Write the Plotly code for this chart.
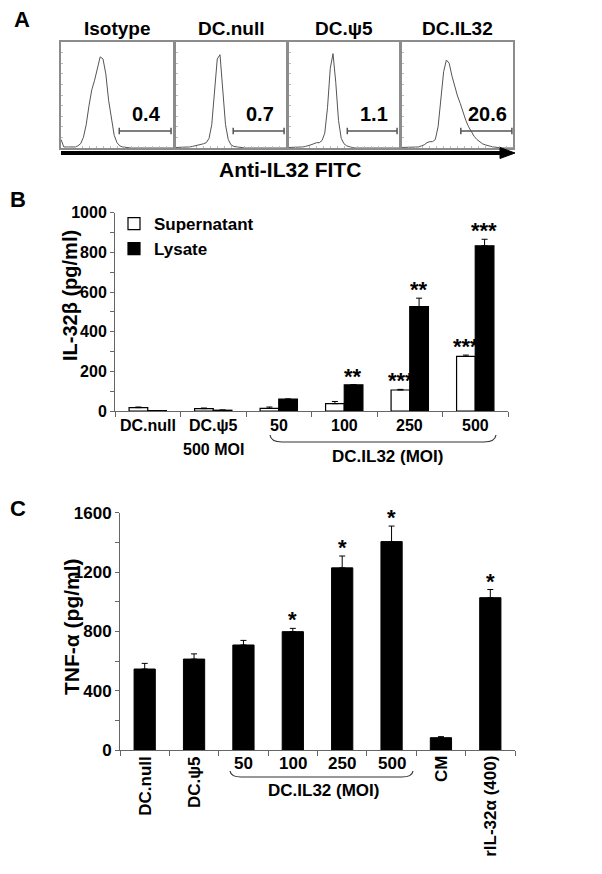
import plotly.graph_objects as go

W, H = 602, 874
OFF = 8  # page body margin of the browser
def px(x): return (x - OFF) / W
def py(y): return 1 - (y - OFF) / H

FONT = "Liberation Sans, Arial, Helvetica, sans-serif"

# ---------------- Panel A data ----------------
hist_titles = ["Isotype", "DC.null", "DC.ψ5", "DC.IL32"]
hist_pct = ["0.4", "0.7", "1.1", "20.6"]
fitc_log = [0.0, 0.1, 0.2, 0.3, 0.4, 0.5, 0.6, 0.7, 0.8, 0.9,
            1.0, 1.1, 1.2, 1.3, 1.4, 1.5, 1.6, 1.7, 1.8, 1.9,
            2.0, 2.1, 2.2, 2.3, 2.4, 2.5, 2.6, 2.7, 2.8, 2.9,
            3.0, 3.1, 3.2, 3.3, 3.4, 3.5, 3.6, 3.7, 3.8, 3.9, 4.0]
iso_counts = [8, 1, 1, 1, 1, 1, 2, 4, 10, 22,
              40, 55, 64, 75, 86, 84, 70, 45, 26, 12,
              5, 2, 1, 0.5, 0, 0, 0, 0, 0, 0,
              0, 0, 0, 0, 0, 0, 0, 0, 0, 0, 0]
null_counts = [0.5, 0.5, 0.5, 0.5, 0.5, 1, 1.5, 2, 3, 3.5,
               4, 5, 9, 22, 50, 84, 88, 55, 22, 8,
               3, 1.5, 1, 0.5, 0, 0, 0, 0, 0, 0,
               0, 0, 0, 0, 0, 0, 0, 0, 0, 0, 0]
psi5_counts = [0.5, 0.5, 0.5, 0.5, 0.5, 1, 1.5, 2, 3, 4,
               5, 5, 7, 14, 38, 75, 89, 62, 26, 9,
               4, 2, 1, 0.5, 0, 0, 0, 0, 0, 0,
               0, 0, 0, 0, 0, 0, 0, 0, 0, 0, 0]
il32_counts = [0.5, 0.5, 0.5, 0.5, 0.5, 1, 1, 2, 3, 5,
               6, 6, 8, 20, 45, 72, 83, 80, 68, 58,
               49, 42, 33, 26, 20, 15, 11, 8, 6, 4,
               3, 2, 1.5, 1, 0.5, 0, 0, 0, 0, 0, 0]
hist_counts = [iso_counts, null_counts, psi5_counts, il32_counts]
gate_lo = [2.08, 2.08, 2.12, 2.12]
gate_hi = [3.93, 3.93, 3.93, 3.96]
gate_level = 16

# ---------------- Panel B data ----------------
b_cats = ["DC.null", "DC.ψ5 500 MOI", "50 MOI", "100 MOI", "250 MOI", "500 MOI"]
b_labels = ["DC.null", "DC.ψ5", "50", "100", "250", "500"]
b_sup = [17, 12, 13, 37, 106, 275]
b_sup_err = [3, 3, 7, 11, 3, 7]
b_lys = [2, 4, 60, 132, 527, 833]
b_lys_err = [0, 1, 0, 0, 42, 33]
b_sup_stars = ["", "", "", "", "***", "***"]
b_lys_stars = ["", "", "", "**", "**", "***"]

# ---------------- Panel C data ----------------
c_cats = ["DC.null", "DC.ψ5", "50 MOI", "100 MOI", "250 MOI", "500 MOI", "CM", "rIL-32α (400)"]
c_labels = ["DC.null", "DC.ψ5", "50", "100", "250", "500", "CM", "rIL-32α (400)"]
c_vertical = [True, True, False, False, False, False, True, True]
c_vals = [546, 613, 708, 798, 1228, 1405, 83, 1027]
c_err = [38, 35, 31, 22, 80, 105, 7, 55]
c_stars = ["", "", "", "*", "*", "*", "", "*"]

fig = go.Figure()
layout = dict()
annotations = []
shapes = []

def txt(text, x, y, size, xref="paper", yref="paper", **kw):
    d = dict(text=f"<b>{text}</b>", xref=xref, yref=yref, x=x, y=y, showarrow=False,
             xanchor="center", yanchor="middle",
             font=dict(size=size, family=FONT, color="black"))
    d.update(kw)
    return d

# ---------- Panel A ----------
boxes_x = [(61, 173), (176, 286), (289, 399), (402, 513)]
box_top, box_bot = 42, 148
for i in range(4):
    xa = f"x{i+1}" if i > 0 else "x"
    ya = f"y{i+1}" if i > 0 else "y"
    fig.add_trace(go.Scatter(x=fitc_log, y=hist_counts[i], mode="lines",
                             line=dict(color="#555555", width=1),
                             xaxis=xa, yaxis=ya, showlegend=False, hoverinfo="skip"))
    fig.add_trace(go.Scatter(x=[gate_lo[i], gate_lo[i], gate_lo[i], gate_hi[i], gate_hi[i], gate_hi[i]],
                             y=[gate_level + 3, gate_level - 3, gate_level, gate_level, gate_level + 3, gate_level - 3],
                             mode="lines", line=dict(color="#555555", width=1.5),
                             xaxis=xa, yaxis=ya, showlegend=False, hoverinfo="skip"))
    axkey = "xaxis" if i == 0 else f"xaxis{i+1}"
    aykey = "yaxis" if i == 0 else f"yaxis{i+1}"
    layout[axkey] = dict(domain=[px(boxes_x[i][0]), px(boxes_x[i][1])], range=[0, 4],
                         anchor=ya, showline=True, mirror=True, linecolor="#8c8c8c", linewidth=1.5,
                         showgrid=False, zeroline=False, showticklabels=False,
                         ticks="inside", ticklen=2, tickcolor="#bbbbbb", dtick=0.25, automargin=False)
    layout[aykey] = dict(domain=[py(box_bot), py(box_top)], range=[0, 100],
                         anchor=xa, showline=True, mirror=True, linecolor="#8c8c8c", linewidth=1.5,
                         showgrid=False, zeroline=False, showticklabels=False,
                         ticks="inside", ticklen=2, tickcolor="#bbbbbb", dtick=10, automargin=False)
    annotations.append(txt(hist_titles[i], px((boxes_x[i][0] + boxes_x[i][1]) / 2), py(28), 19))
    annotations.append(txt(hist_pct[i], (gate_lo[i] + gate_hi[i]) / 2 + 0.05, gate_level + 16, 20,
                           xref=xa, yref=ya))

# arrow under panel A
shapes.append(dict(type="line", xref="paper", yref="paper", x0=px(61), x1=px(503),
                   y0=py(153), y1=py(153), line=dict(color="black", width=4)))
shapes.append(dict(type="path", xref="paper", yref="paper",
                   path=f"M {px(500)},{py(147.5)} L {px(515)},{py(153)} L {px(500)},{py(158.5)} Z",
                   fillcolor="black", line=dict(color="black", width=1)))
annotations.append(txt("Anti-IL32 FITC", px(290), py(170), 21))
annotations.append(txt("A", px(22), py(20), 22))

# ---------- Panel B ----------
nb = len(b_cats)
fig.add_trace(go.Bar(x=b_cats, y=b_sup, name="Supernatant", xaxis="x5", yaxis="y5",
                     marker=dict(color="white", line=dict(color="black", width=1.2)),
                     error_y=dict(type="data", array=b_sup_err, arrayminus=[0]*nb, symmetric=False,
                                  color="black", thickness=1, width=3),
                     offsetgroup="sup"))
fig.add_trace(go.Bar(x=b_cats, y=b_lys, name="Lysate", xaxis="x5", yaxis="y5",
                     marker=dict(color="black", line=dict(color="black", width=1.2)),
                     error_y=dict(type="data", array=b_lys_err, arrayminus=[0]*nb, symmetric=False,
                                  color="black", thickness=1, width=3),
                     offsetgroup="lys"))
layout["xaxis5"] = dict(domain=[px(115), px(508)], anchor="y5", type="category",
                        categoryorder="array", categoryarray=b_cats, range=[-0.5, nb - 0.5],
                        showline=True, linecolor="#666666", linewidth=1, tickson="boundaries",
                        ticks="outside", ticklen=5, tickcolor="#666666", showticklabels=False,
                        showgrid=False, zeroline=False, automargin=False)
layout["yaxis5"] = dict(domain=[py(411), py(212.7)], anchor="x5", range=[0, 1000],
                        tickvals=[0, 200, 400, 600, 800, 1000], showline=True, linecolor="#666666",
                        linewidth=1, ticks="outside", ticklen=4, tickcolor="#666666",
                        minor=dict(dtick=100, ticks="outside", ticklen=4, tickcolor="#666666"),
                        tickfont=dict(size=16, family=FONT, color="black", weight="bold"),
                        showgrid=False, zeroline=False, automargin=False)
for i in range(nb):
    if b_sup_stars[i]:
        annotations.append(txt(b_sup_stars[i], i, b_sup[i] + b_sup_err[i], 22, xref="x5", yref="y5",
                               xshift=-9, yshift=-6, yanchor="bottom"))
    if b_lys_stars[i]:
        annotations.append(txt(b_lys_stars[i], i, b_lys[i] + b_lys_err[i], 22, xref="x5", yref="y5",
                               xshift=9, yshift=-6, yanchor="bottom"))
    annotations.append(txt(b_labels[i], i, py(425), 16, xref="x5"))
annotations.append(txt("500 MOI", 1, py(449), 16, xref="x5"))
shapes.append(dict(type="path", xref="paper", yref="paper",
                   path=(f"M {px(270)},{py(435)} Q {px(271)},{py(442)} {px(282)},{py(442)} "
                         f"L {px(484)},{py(442)} Q {px(495)},{py(442)} {px(496)},{py(435)}"),
                   line=dict(color="#333333", width=1.2)))
annotations.append(txt("DC.IL32 (MOI)", px(387), py(456), 17))
annotations.append(txt("IL-32β (pg/ml)", px(70), py(296), 20, textangle=-90))
annotations.append(txt("B", px(18), py(200), 22))

# ---------- Panel C ----------
nc = len(c_cats)
fig.add_trace(go.Bar(x=c_cats, y=c_vals, xaxis="x6", yaxis="y6", width=0.43, showlegend=False,
                     marker=dict(color="black", line=dict(color="black", width=1)),
                     error_y=dict(type="data", array=c_err, arrayminus=[0]*nc, symmetric=False,
                                  color="black", thickness=1, width=3)))
layout["xaxis6"] = dict(domain=[px(120), px(515)], anchor="y6", type="category",
                        categoryorder="array", categoryarray=c_cats, range=[-0.5, nc - 0.5],
                        showline=True, linecolor="#666666", linewidth=1, tickson="boundaries",
                        ticks="outside", ticklen=5, tickcolor="#666666", showticklabels=False,
                        showgrid=False, zeroline=False, automargin=False)
layout["yaxis6"] = dict(domain=[py(750), py(512.7)], anchor="x6", range=[0, 1600],
                        tickvals=[0, 400, 800, 1200, 1600], showline=True, linecolor="#666666",
                        linewidth=1, ticks="outside", ticklen=4, tickcolor="#666666",
                        minor=dict(dtick=200, ticks="outside", ticklen=4, tickcolor="#666666"),
                        tickfont=dict(size=17, family=FONT, color="black", weight="bold"),
                        showgrid=False, zeroline=False, automargin=False)
for i in range(nc):
    if c_stars[i]:
        annotations.append(txt(c_stars[i], i, c_vals[i] + c_err[i], 22, xref="x6", yref="y6",
                               yshift=-6, yanchor="bottom"))
    if c_vertical[i]:
        annotations.append(txt(c_labels[i], i, py(754), 17, xref="x6", textangle=-90, yanchor="top"))
    else:
        annotations.append(txt(c_labels[i], i, py(763), 17, xref="x6"))
shapes.append(dict(type="path", xref="paper", yref="paper",
                   path=(f"M {px(230)},{py(771)} Q {px(231)},{py(777)} {px(241)},{py(777)} "
                         f"L {px(402)},{py(777)} Q {px(412)},{py(777)} {px(413)},{py(771)}"),
                   line=dict(color="#333333", width=1.2)))
annotations.append(txt("DC.IL32 (MOI)", px(323), py(790), 17))
annotations.append(txt("TNF-α (pg/ml)", px(71), py(627), 21, textangle=-90))
annotations.append(txt("C", px(18), py(508), 22))

fig.update_layout(**layout)
fig.update_layout(
    width=W, height=H, margin=dict(l=0, r=0, t=0, b=0, pad=0, autoexpand=False),
    paper_bgcolor="white", plot_bgcolor="white",
    barmode="group", bargap=0.43, bargroupgap=0,
    font=dict(family=FONT, color="black"),
    annotations=annotations, shapes=shapes,
    legend=dict(x=px(114), y=py(206), xanchor="left", yanchor="top",
                font=dict(size=17, family=FONT, color="black", weight="bold"),
                bgcolor="rgba(0,0,0,0)", tracegroupgap=0, itemwidth=30),
    showlegend=True,
)
fig.write_html("out.html")
